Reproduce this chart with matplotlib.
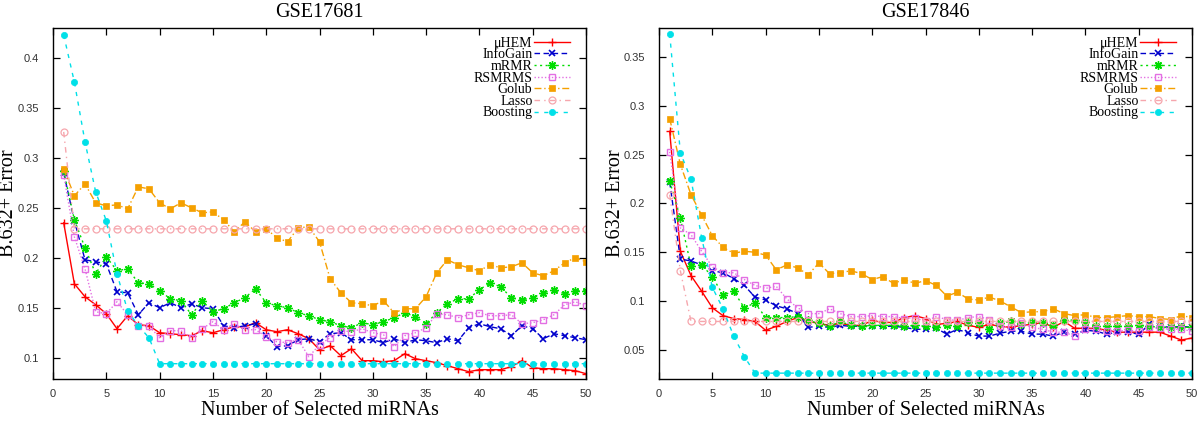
import numpy as np
import matplotlib.pyplot as plt
from matplotlib.ticker import MultipleLocator, FuncFormatter

plt.rcParams['font.family'] = 'Liberation Serif'

n_mirnas = np.arange(1, 51)
methods = ['μHEM', 'InfoGain', 'mRMR', 'RSMRMS', 'Golub', 'Lasso', 'Boosting']

# GSE17681
hem_17681 = [0.235, 0.174, 0.161, 0.153, 0.144, 0.129, 0.142, 0.133, 0.132, 0.125,
             0.124, 0.123, 0.122, 0.127, 0.125, 0.128, 0.131, 0.131, 0.135, 0.128,
             0.126, 0.128, 0.124, 0.119, 0.108, 0.112, 0.102, 0.109, 0.097, 0.097,
             0.096, 0.097, 0.104, 0.099, 0.097, 0.095, 0.092, 0.089, 0.086, 0.088,
             0.088, 0.088, 0.091, 0.097, 0.090, 0.089, 0.089, 0.088, 0.087, 0.084]
infogain_17681 = [0.285, 0.237, 0.198, 0.196, 0.194, 0.166, 0.165, 0.143, 0.155, 0.150,
                  0.155, 0.150, 0.154, 0.150, 0.149, 0.132, 0.130, 0.132, 0.134, 0.122,
                  0.111, 0.112, 0.118, 0.119, 0.116, 0.124, 0.125, 0.118, 0.118, 0.118,
                  0.115, 0.119, 0.115, 0.118, 0.117, 0.115, 0.119, 0.117, 0.130, 0.134,
                  0.131, 0.129, 0.122, 0.132, 0.129, 0.119, 0.124, 0.122, 0.120, 0.118]
mrmr_17681 = [0.287, 0.238, 0.210, 0.184, 0.201, 0.187, 0.189, 0.175, 0.174, 0.167,
              0.159, 0.157, 0.143, 0.157, 0.146, 0.149, 0.155, 0.160, 0.169, 0.155,
              0.152, 0.150, 0.145, 0.142, 0.138, 0.136, 0.132, 0.130, 0.135, 0.133,
              0.136, 0.140, 0.145, 0.141, 0.134, 0.145, 0.154, 0.159, 0.159, 0.168,
              0.175, 0.171, 0.160, 0.158, 0.160, 0.165, 0.168, 0.164, 0.167, 0.167]
rsmrms_17681 = [0.283, 0.221, 0.189, 0.146, 0.144, 0.156, 0.143, 0.132, 0.132, 0.120,
                0.127, 0.127, 0.120, 0.129, 0.136, 0.128, 0.134, 0.128, 0.128, 0.121,
                0.116, 0.115, 0.118, 0.101, 0.113, 0.120, 0.127, 0.126, 0.129, 0.125,
                0.123, 0.111, 0.122, 0.125, 0.130, 0.144, 0.143, 0.140, 0.143, 0.145,
                0.142, 0.142, 0.143, 0.134, 0.135, 0.138, 0.143, 0.153, 0.156, 0.152]
golub_17681 = [0.289, 0.262, 0.274, 0.255, 0.252, 0.253, 0.249, 0.271, 0.269, 0.255,
               0.249, 0.255, 0.250, 0.245, 0.246, 0.238, 0.226, 0.236, 0.226, 0.229,
               0.220, 0.216, 0.230, 0.231, 0.216, 0.179, 0.165, 0.155, 0.154, 0.152,
               0.157, 0.145, 0.149, 0.149, 0.161, 0.185, 0.198, 0.193, 0.190, 0.187,
               0.193, 0.190, 0.191, 0.195, 0.185, 0.182, 0.187, 0.195, 0.200, 0.196]
lasso_17681 = [0.326, 0.229, 0.229, 0.229, 0.229, 0.229, 0.229, 0.229, 0.229, 0.229,
               0.229, 0.229, 0.229, 0.229, 0.229, 0.229, 0.229, 0.229, 0.229, 0.229,
               0.229, 0.229, 0.229, 0.229, 0.229, 0.229, 0.229, 0.229, 0.229, 0.229,
               0.229, 0.229, 0.229, 0.229, 0.229, 0.229, 0.229, 0.229, 0.229, 0.229,
               0.229, 0.229, 0.229, 0.229, 0.229, 0.229, 0.229, 0.229, 0.229, 0.229]
boosting_17681 = [0.423, 0.376, 0.316, 0.266, 0.237, 0.184, 0.147, 0.132, 0.120, 0.094,
                  0.094, 0.094, 0.094, 0.094, 0.094, 0.094, 0.094, 0.094, 0.094, 0.094,
                  0.094, 0.094, 0.094, 0.094, 0.094, 0.094, 0.094, 0.094, 0.094, 0.094,
                  0.094, 0.094, 0.094, 0.094, 0.094, 0.094, 0.094, 0.094, 0.094, 0.094,
                  0.094, 0.094, 0.094, 0.094, 0.094, 0.094, 0.094, 0.094, 0.094, 0.094]

# GSE17846
hem_17846 = [0.274, 0.151, 0.126, 0.110, 0.093, 0.085, 0.082, 0.081, 0.079, 0.070,
             0.074, 0.079, 0.083, 0.079, 0.077, 0.075, 0.077, 0.075, 0.075, 0.080,
             0.078, 0.078, 0.083, 0.085, 0.082, 0.076, 0.077, 0.079, 0.075, 0.073,
             0.076, 0.074, 0.073, 0.075, 0.076, 0.078, 0.073, 0.079, 0.072, 0.072,
             0.072, 0.070, 0.068, 0.068, 0.068, 0.068, 0.068, 0.064, 0.060, 0.062]
infogain_17846 = [0.222, 0.143, 0.141, 0.137, 0.131, 0.129, 0.123, 0.116, 0.104, 0.101,
                  0.095, 0.092, 0.087, 0.073, 0.074, 0.073, 0.075, 0.074, 0.074, 0.074,
                  0.074, 0.074, 0.073, 0.071, 0.071, 0.072, 0.066, 0.071, 0.067, 0.064,
                  0.064, 0.067, 0.069, 0.069, 0.066, 0.066, 0.064, 0.068, 0.066, 0.070,
                  0.069, 0.066, 0.068, 0.068, 0.066, 0.076, 0.074, 0.073, 0.074, 0.073]
mrmr_17846 = [0.223, 0.185, 0.136, 0.137, 0.125, 0.106, 0.110, 0.093, 0.098, 0.083,
              0.083, 0.083, 0.084, 0.080, 0.077, 0.074, 0.079, 0.075, 0.074, 0.075,
              0.075, 0.075, 0.074, 0.075, 0.074, 0.073, 0.075, 0.074, 0.078, 0.077,
              0.071, 0.077, 0.079, 0.076, 0.078, 0.077, 0.075, 0.081, 0.080, 0.078,
              0.074, 0.074, 0.074, 0.074, 0.075, 0.074, 0.073, 0.073, 0.073, 0.073]
rsmrms_17846 = [0.253, 0.175, 0.168, 0.151, 0.135, 0.129, 0.129, 0.122, 0.116, 0.113,
                0.115, 0.102, 0.093, 0.087, 0.087, 0.092, 0.087, 0.084, 0.084, 0.085,
                0.084, 0.084, 0.082, 0.083, 0.079, 0.084, 0.081, 0.080, 0.083, 0.084,
                0.081, 0.074, 0.073, 0.077, 0.073, 0.071, 0.068, 0.068, 0.064, 0.071,
                0.071, 0.069, 0.069, 0.070, 0.069, 0.073, 0.072, 0.071, 0.071, 0.069]
golub_17846 = [0.287, 0.240, 0.209, 0.188, 0.167, 0.155, 0.149, 0.151, 0.150, 0.147,
               0.132, 0.137, 0.134, 0.127, 0.139, 0.128, 0.129, 0.131, 0.128, 0.122,
               0.125, 0.118, 0.122, 0.118, 0.121, 0.116, 0.105, 0.109, 0.102, 0.101,
               0.104, 0.100, 0.094, 0.088, 0.089, 0.089, 0.092, 0.087, 0.085, 0.086,
               0.083, 0.083, 0.084, 0.085, 0.084, 0.084, 0.082, 0.081, 0.085, 0.083]
lasso_17846 = [0.209, 0.131, 0.079, 0.079, 0.079, 0.079, 0.079, 0.079, 0.079, 0.079,
               0.079, 0.079, 0.079, 0.079, 0.079, 0.079, 0.079, 0.079, 0.079, 0.079,
               0.079, 0.079, 0.079, 0.079, 0.079, 0.079, 0.079, 0.079, 0.079, 0.079,
               0.079, 0.079, 0.079, 0.079, 0.079, 0.079, 0.079, 0.079, 0.079, 0.079,
               0.079, 0.079, 0.079, 0.079, 0.079, 0.079, 0.079, 0.079, 0.079, 0.079]
boosting_17846 = [0.374, 0.252, 0.225, 0.165, 0.114, 0.092, 0.064, 0.043, 0.026, 0.026,
                  0.026, 0.026, 0.026, 0.026, 0.026, 0.026, 0.026, 0.026, 0.026, 0.026,
                  0.026, 0.026, 0.026, 0.026, 0.026, 0.026, 0.026, 0.026, 0.026, 0.026,
                  0.026, 0.026, 0.026, 0.026, 0.026, 0.026, 0.026, 0.026, 0.026, 0.026,
                  0.026, 0.026, 0.026, 0.026, 0.026, 0.026, 0.026, 0.026, 0.026, 0.026]

# line styles, same order as methods (gnuplot-ish look)
styles = [
    dict(color='#ff0000', ls='-', marker='+', ms=6, mew=1.0),
    dict(color='#0000cc', ls=(0, (4, 2.5)), marker='x', ms=4.5, mew=1.2),
    dict(color='#00dd00', ls=(0, (1.5, 2.5)), marker=(8, 2, 0), ms=6, mew=1.0),
    dict(color='#e36fe3', ls=(0, (1, 1.5)), marker='s', ms=5, mfc='none', mew=1.0),
    dict(color='#f5a000', ls=(0, (5, 2, 1, 2)), marker='s', ms=4.5, mew=0.5),
    dict(color='#f6a6ad', ls=(0, (4, 3, 1, 3)), marker='o', ms=5, mfc='none', mew=0.9),
    dict(color='#00e0e8', ls=(0, (3, 4)), marker='o', ms=4.5, mew=0.5),
]

panels = [
    ('GSE17681', [hem_17681, infogain_17681, mrmr_17681, rsmrms_17681,
                  golub_17681, lasso_17681, boosting_17681], (0.0787, 0.43), -0.066),
    ('GSE17846', [hem_17846, infogain_17846, mrmr_17846, rsmrms_17846,
                  golub_17846, lasso_17846, boosting_17846], (0.02, 0.38), -0.064),
]

fig = plt.figure(figsize=(12, 4.21), dpi=100)
axes = [fig.add_axes([0.0442, 0.0998, 0.4441, 0.8337]),
        fig.add_axes([0.5492, 0.0998, 0.4441, 0.8337])]

for ax, (title, series, ylim, ylab_x) in zip(axes, panels):
    for name, vals, st in zip(methods, series, styles):
        ax.plot(n_mirnas, vals, label=name, lw=1.0, **st)

    ax.set_xlim(0, 50)
    ax.set_ylim(*ylim)
    ax.xaxis.set_major_locator(MultipleLocator(5))
    ax.yaxis.set_major_locator(MultipleLocator(0.05))
    ax.yaxis.set_major_formatter(FuncFormatter(lambda v, p: '%g' % round(v, 3)))
    ax.tick_params(direction='in', top=True, right=True, length=5, width=0.9,
                   labelsize=8, labelcolor='#333333', labelfontfamily='Liberation Sans')
    ax.tick_params(axis='x', pad=7)
    ax.tick_params(axis='y', pad=10)
    for sp in ax.spines.values():
        sp.set_linewidth(1.0)

    ax.set_title(title, fontsize=14.5, pad=8)
    ax.set_xlabel('Number of Selected miRNAs', fontsize=14.5, labelpad=2)
    ax.set_ylabel('B.632+ Error', fontsize=14.5)
    ax.yaxis.set_label_coords(ylab_x, 0.5)

    leg = ax.legend(loc='upper right', bbox_to_anchor=(0.983, 0.995), frameon=False,
                    markerfirst=False, fontsize=10, handlelength=2.6,
                    handletextpad=0.1, labelspacing=-0.1, borderaxespad=0.1)
    # right-align the labels like gnuplot's key
    for col in leg._legend_handle_box.get_children():
        col.align = 'right'

fig.savefig('out.png', dpi=100)
